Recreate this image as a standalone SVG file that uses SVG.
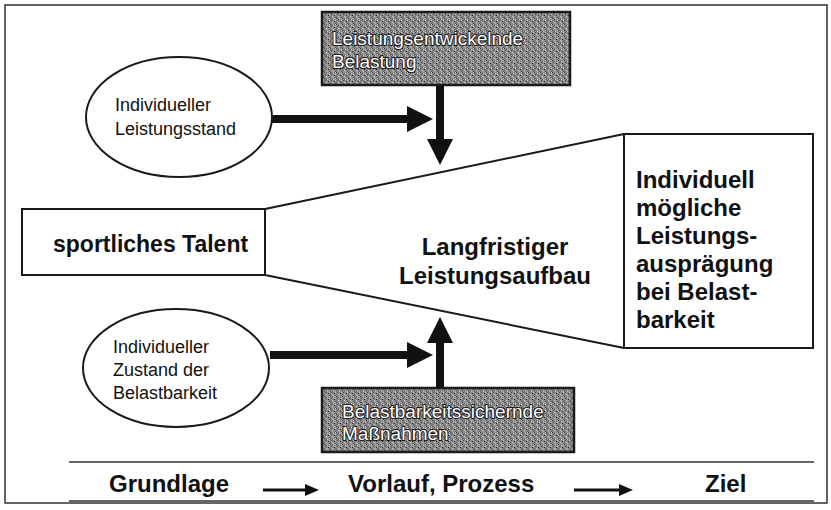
<svg xmlns="http://www.w3.org/2000/svg" width="831" height="510" viewBox="0 0 831 510">
<defs>
<style>
.ln{fill:none;stroke:#1a1a1a;stroke-width:2}
.shape{fill:#fff;stroke:#1a1a1a;stroke-width:2}
.dark{fill:url(#grain);stroke:#1a1a1a;stroke-width:2.5}
.thin{font-family:"Liberation Sans",Arial,sans-serif;font-size:18px;fill:#111}
.bold{font-family:"Liberation Sans",Arial,sans-serif;font-size:24px;font-weight:bold;fill:#111}
.inv{font-family:"Liberation Sans",Arial,sans-serif;font-size:19px;fill:#fff;stroke:#1a1a1a;stroke-width:2;paint-order:stroke;stroke-linejoin:round}
.thick{stroke:#111;stroke-width:8;fill:none}
.small{stroke:#111;stroke-width:3;fill:none}
</style>
<pattern id="grain" width="6" height="6" patternUnits="userSpaceOnUse">
<rect width="6" height="6" fill="#8a8a8a"/>
<rect x="0" y="0" width="1" height="1" fill="#3c3c3c"/>
<rect x="3" y="1" width="1" height="1" fill="#d2d2d2"/>
<rect x="1" y="2" width="1" height="1" fill="#4a4a4a"/>
<rect x="4" y="3" width="1" height="1" fill="#2a2a2a"/>
<rect x="2" y="4" width="1" height="1" fill="#cccccc"/>
<rect x="5" y="5" width="1" height="1" fill="#555"/>
<rect x="5" y="0" width="1" height="1" fill="#bdbdbd"/>
<rect x="0" y="4" width="1" height="1" fill="#666"/>
<rect x="3" y="5" width="1" height="1" fill="#b5b5b5"/>
<rect x="2" y="1" width="1" height="1" fill="#5a5a5a"/>
<rect x="5" y="2" width="1" height="1" fill="#c4c4c4"/>
</pattern>
<marker id="bigHead" markerUnits="userSpaceOnUse" markerWidth="26" markerHeight="26" viewBox="0 0 26 26" refX="6" refY="13" orient="auto">
<path d="M0,0 L26,13 L0,26 z" fill="#111"/>
</marker>
<marker id="smallHead" markerUnits="userSpaceOnUse" markerWidth="14" markerHeight="12" viewBox="0 0 14 12" refX="4" refY="6" orient="auto">
<path d="M0,0 L14,6 L0,12 z" fill="#111"/>
</marker>
</defs>
<rect width="831" height="510" fill="#fff"/>
<rect x="5" y="5" width="822" height="498" fill="none" stroke="#333" stroke-width="1.5"/>

<g id="connectors">
<line class="thick" x1="272" y1="119" x2="413" y2="119" marker-end="url(#bigHead)"/>
<line class="thick" x1="440" y1="85" x2="440" y2="145" marker-end="url(#bigHead)"/>
<line class="thick" x1="270" y1="355" x2="413" y2="355" marker-end="url(#bigHead)"/>
<line class="thick" x1="440" y1="388" x2="440" y2="337" marker-end="url(#bigHead)"/>
<line class="ln" x1="265" y1="209" x2="624" y2="134"/>
<line class="ln" x1="265" y1="275" x2="624" y2="348"/>
<line class="small" x1="263" y1="490" x2="309" y2="490" marker-end="url(#smallHead)"/>
<line class="small" x1="574" y1="490" x2="623" y2="490" marker-end="url(#smallHead)"/>
</g>

<g id="top-box">
<rect class="dark" x="322" y="12" width="248" height="73"/>
<text class="inv" x="332" y="45">Leistungsentwickelnde</text>
<text class="inv" x="332" y="68">Belastung</text>
</g>

<g id="ellipse-top">
<ellipse class="shape" cx="179" cy="117" rx="93" ry="60"/>
<text class="thin" x="115" y="111">Individueller</text>
<text class="thin" x="115" y="135">Leistungsstand</text>
</g>

<g id="talent">
<rect class="shape" x="22" y="209" width="243" height="66"/>
<text class="bold" x="53" y="252" style="font-size:23px">sportliches Talent</text>
</g>

<g id="center">
<text class="bold" x="495" y="255" text-anchor="middle">Langfristiger</text>
<text class="bold" x="495" y="284" text-anchor="middle">Leistungsaufbau</text>
</g>

<g id="goal">
<rect class="shape" x="624" y="134" width="189" height="214"/>
<text class="bold" x="636" y="188">Individuell</text>
<text class="bold" x="636" y="216">mögliche</text>
<text class="bold" x="636" y="244">Leistungs-</text>
<text class="bold" x="636" y="272">ausprägung</text>
<text class="bold" x="636" y="300">bei Belast-</text>
<text class="bold" x="636" y="328">barkeit</text>
</g>

<g id="ellipse-bottom">
<ellipse class="shape" cx="176" cy="368" rx="93" ry="59"/>
<text class="thin" x="113" y="353">Individueller</text>
<text class="thin" x="113" y="376">Zustand der</text>
<text class="thin" x="113" y="399">Belastbarkeit</text>
</g>

<g id="bottom-box">
<rect class="dark" x="322" y="388" width="252" height="64"/>
<text class="inv" x="342" y="418">Belastbarkeitssichernde</text>
<text class="inv" x="342" y="440">Maßnahmen</text>
</g>

<g id="timeline">
<line x1="69" y1="462" x2="814" y2="462" stroke="#333" stroke-width="1.5"/>
<line x1="69" y1="501" x2="814" y2="501" stroke="#333" stroke-width="1.5"/>
<text class="bold" x="109" y="492">Grundlage</text>
<text class="bold" x="348" y="492">Vorlauf, Prozess</text>
<text class="bold" x="705" y="492">Ziel</text>
</g>
</svg>
